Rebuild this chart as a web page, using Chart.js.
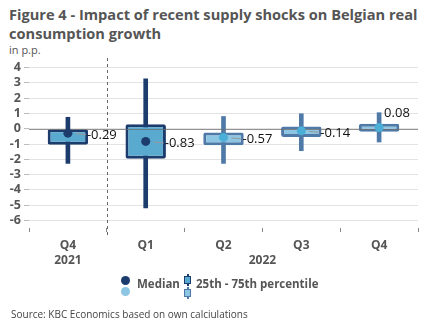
<!DOCTYPE html>
<html><head><meta charset="utf-8">
<script src="https://cdn.jsdelivr.net/npm/chart.js@4"></script>
<style>
html,body{margin:0;padding:0;width:432px;height:334px;background:#fff;overflow:hidden;font-family:"Open Sans",sans-serif;}
#wrap{position:absolute;left:0;top:0;width:432px;height:334px;}
canvas{position:absolute;left:0;top:0;}
.t{position:absolute;left:9px;color:#555;font-weight:bold;font-size:14.6px;line-height:19px;white-space:nowrap;}
.sub{position:absolute;left:9px;top:42px;color:#555;font-size:11px;}
.src{position:absolute;left:11px;top:307px;color:#444;font-size:10px;}
.leg{position:absolute;top:274px;left:120px;height:24px;font-size:11.5px;font-weight:bold;color:#555;}
.dot{position:absolute;width:9px;height:9px;border-radius:50%;}
.bx{position:absolute;width:5px;height:6px;border:1.5px solid;}
.ln{position:absolute;width:2px;}
</style></head>
<body><div id="wrap">
<div class="t" style="top:5px">Figure 4 - Impact of recent supply shocks on Belgian real</div>
<div class="t" style="top:24px">consumption growth</div>
<div class="sub">in p.p.</div>
<canvas id="c" width="432" height="334"></canvas>
<div class="leg">
  <div class="dot" style="left:1px;top:2px;background:#1d3c6e"></div>
  <div class="dot" style="left:1px;top:13px;background:#8dc6e2"></div>
  <div style="position:absolute;left:17px;top:2px">Median</div>
  <div class="ln" style="left:67px;top:0px;height:12px;background:#1d3c6e"></div>
  <div class="bx" style="left:64px;top:2px;border-color:#1d3c6e;background:#5aa9cf"></div>
  <div class="ln" style="left:67px;top:13px;height:12px;background:#4f79a6"></div>
  <div class="bx" style="left:64px;top:15px;border-color:#4f79a6;background:#8dc6e2"></div>
  <div style="position:absolute;left:76px;top:2px;white-space:nowrap">25th - 75th percentile</div>
</div>
<div class="src">Source: KBC Economics based on own calciulations</div>
</div>
<script>
const categories = ["Q4", "Q1", "Q2", "Q3", "Q4"];
const years = ["2021", "2022"];
const median = [-0.29, -0.83, -0.57, -0.14, 0.08];
const p25 = [-1.05, -1.96, -1.09, -0.54, -0.20];
const p75 = [0.0, 0.30, -0.24, 0.15, 0.33];
const whiskerLow = [-2.27, -5.18, -2.27, -1.44, -0.87];
const whiskerHigh = [0.75, 3.27, 0.80, 0.98, 1.05];
const yTicks = [-6, -5, -4, -3, -2, -1, 0, 1, 2, 3, 4];

const darkBorder = '#1d3c6e', lightBorder = '#4f79a6';
const darkFill = '#5aa9cf', lightFill = '#8dc6e2';
const borderCols = categories.map((c,i)=> i<2 ? darkBorder : lightBorder);
const fillCols = categories.map((c,i)=> i<2 ? darkFill : lightFill);
const dotCols = categories.map((c,i)=> i<2 ? darkBorder : '#4aaed6');

const font = "'Open Sans', sans-serif";

const extras = {
  id: 'extras',
  afterDatasetDraw(chart, args) {
    if (args.index !== 1) return;
    const {ctx, chartArea} = chart;
    const y = chart.scales.y;
    ctx.save();
    ctx.strokeStyle = 'rgba(110,110,110,0.75)';
    ctx.lineWidth = 1;
    const y0 = Math.round(y.getPixelForValue(0)) + 0.5;
    ctx.beginPath(); ctx.moveTo(chartArea.left, y0); ctx.lineTo(chartArea.right, y0); ctx.stroke();
    ctx.restore();
  },
  afterDraw(chart) {
    const {ctx, chartArea} = chart;
    const x = chart.scales.x, y = chart.scales.y;
    ctx.save();
    const sx = Math.round((x.getPixelForValue(0) + x.getPixelForValue(1)) / 2) + 0.5;
    ctx.strokeStyle = '#666'; ctx.lineWidth = 1; ctx.setLineDash([3, 3]);
    ctx.beginPath(); ctx.moveTo(sx, chartArea.top - 2); ctx.lineTo(sx, chartArea.bottom + 7); ctx.stroke();
    ctx.setLineDash([]);
    ctx.font = "13px " + font;
    ctx.fillStyle = '#111';
    ctx.textBaseline = 'middle';
    ctx.textAlign = 'left';
    median.forEach((m, i) => {
      const px = x.getPixelForValue(i), py = y.getPixelForValue(m);
      const txt = m.toFixed(2);
      if (m >= 0) {
        ctx.fillText(txt, px + 5, py - 14);
      } else {
        ctx.strokeStyle = '#999'; ctx.lineWidth = 1;
        ctx.beginPath(); ctx.moveTo(px + 8, py + 0.5); ctx.lineTo(px + 18, py + 1.5); ctx.stroke();
        ctx.fillText(txt, px + 19, py + 2);
      }
    });
    ctx.font = "bold 12px " + font;
    ctx.fillStyle = '#555';
    ctx.textAlign = 'center';
    ctx.fillText(years[0], x.getPixelForValue(0), 261);
    ctx.fillText(years[1], (x.getPixelForValue(1) + x.getPixelForValue(4)) / 2, 261);
    ctx.restore();
  }
};

new Chart(document.getElementById('c'), {
  type: 'bar',
  data: {
    labels: categories,
    datasets: [
      { type: 'bar', data: whiskerLow.map((v,i)=>[v, whiskerHigh[i]]), backgroundColor: borderCols,
        barThickness: 4, grouped: false, order: 3 },
      { type: 'bar', data: p25.map((v,i)=>[v, p75[i]]), backgroundColor: fillCols, borderColor: borderCols,
        borderWidth: 3, borderSkipped: false, borderRadius: 2, barPercentage: 0.52, categoryPercentage: 1,
        grouped: false, order: 2 },
      { type: 'line', data: median, showLine: false, pointRadius: 4.5, pointHoverRadius: 4.5,
        pointBackgroundColor: dotCols, pointBorderWidth: 0, order: 1 }
    ]
  },
  options: {
    responsive: false, animation: false,
    layout: { padding: { top: 60, right: 14, left: 0, bottom: 0 } },
    plugins: { legend: { display: false }, tooltip: { enabled: false } },
    scales: {
      x: {
        offset: true,
        grid: { offset: true, drawOnChartArea: false, drawTicks: true, tickLength: 4, color: '#888' },
        border: { display: false },
        ticks: { color: '#555', font: { family: font, size: 12, weight: 'bold' }, padding: 6 },
        afterFit(s) { s.height = 334 - 228; }
      },
      y: {
        min: -6.5, max: 4.5,
        afterBuildTicks(s) { s.ticks = yTicks.map(v => ({ value: v })); },
        afterFit(s) { s.width = 29; },
        grid: { color: '#e3e3e3', tickLength: 5, tickColor: '#bbb' },
        border: { display: false },
        ticks: { color: '#555', font: { family: font, size: 12.5, weight: 'bold' }, padding: 3, autoSkip: false }
      }
    }
  },
  plugins: [extras]
});
</script>
</body></html>
